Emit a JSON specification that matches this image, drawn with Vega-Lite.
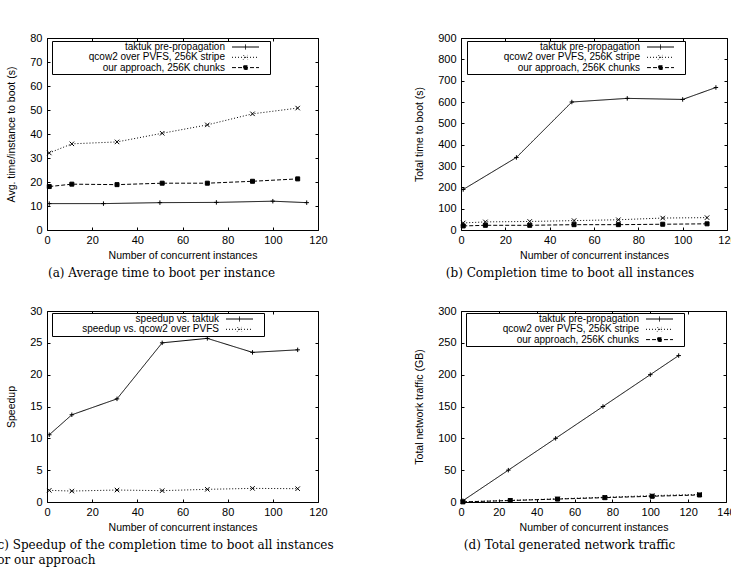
{
  "$schema": "https://vega.github.io/schema/vega-lite/v6.json",
  "padding": {"left": -8, "top": 31, "right": -6, "bottom": 4},
  "background": "white",
  "datasets": {
    "a": [
      {"s": "taktuk pre-propagation", "x": 1, "y": 11},
      {"s": "taktuk pre-propagation", "x": 25, "y": 11},
      {"s": "taktuk pre-propagation", "x": 50, "y": 11.4},
      {"s": "taktuk pre-propagation", "x": 75, "y": 11.5},
      {"s": "taktuk pre-propagation", "x": 100, "y": 12},
      {"s": "taktuk pre-propagation", "x": 115, "y": 11.4},
      {"s": "qcow2 over PVFS, 256K stripe", "x": 1, "y": 32.1},
      {"s": "qcow2 over PVFS, 256K stripe", "x": 11, "y": 35.9},
      {"s": "qcow2 over PVFS, 256K stripe", "x": 31, "y": 36.7},
      {"s": "qcow2 over PVFS, 256K stripe", "x": 51, "y": 40.3},
      {"s": "qcow2 over PVFS, 256K stripe", "x": 71, "y": 43.8},
      {"s": "qcow2 over PVFS, 256K stripe", "x": 91, "y": 48.4},
      {"s": "qcow2 over PVFS, 256K stripe", "x": 111, "y": 50.8},
      {"s": "our approach, 256K chunks", "x": 1, "y": 18.1},
      {"s": "our approach, 256K chunks", "x": 11, "y": 19.1},
      {"s": "our approach, 256K chunks", "x": 31, "y": 18.9},
      {"s": "our approach, 256K chunks", "x": 51, "y": 19.5},
      {"s": "our approach, 256K chunks", "x": 71, "y": 19.5},
      {"s": "our approach, 256K chunks", "x": 91, "y": 20.3},
      {"s": "our approach, 256K chunks", "x": 111, "y": 21.3}
    ],
    "b": [
      {"s": "taktuk pre-propagation", "x": 1, "y": 190},
      {"s": "taktuk pre-propagation", "x": 25, "y": 340},
      {"s": "taktuk pre-propagation", "x": 50, "y": 600},
      {"s": "taktuk pre-propagation", "x": 75, "y": 617},
      {"s": "taktuk pre-propagation", "x": 100, "y": 612},
      {"s": "taktuk pre-propagation", "x": 115, "y": 668},
      {"s": "qcow2 over PVFS, 256K stripe", "x": 1, "y": 33},
      {"s": "qcow2 over PVFS, 256K stripe", "x": 11, "y": 38},
      {"s": "qcow2 over PVFS, 256K stripe", "x": 31, "y": 40},
      {"s": "qcow2 over PVFS, 256K stripe", "x": 51, "y": 44},
      {"s": "qcow2 over PVFS, 256K stripe", "x": 71, "y": 48},
      {"s": "qcow2 over PVFS, 256K stripe", "x": 91, "y": 56},
      {"s": "qcow2 over PVFS, 256K stripe", "x": 111, "y": 58},
      {"s": "our approach, 256K chunks", "x": 1, "y": 19},
      {"s": "our approach, 256K chunks", "x": 11, "y": 22},
      {"s": "our approach, 256K chunks", "x": 31, "y": 22},
      {"s": "our approach, 256K chunks", "x": 51, "y": 25},
      {"s": "our approach, 256K chunks", "x": 71, "y": 25},
      {"s": "our approach, 256K chunks", "x": 91, "y": 27},
      {"s": "our approach, 256K chunks", "x": 111, "y": 29}
    ],
    "c": [
      {"s": "speedup vs. taktuk", "x": 1, "y": 10.56},
      {"s": "speedup vs. taktuk", "x": 11, "y": 13.7},
      {"s": "speedup vs. taktuk", "x": 31, "y": 16.2},
      {"s": "speedup vs. taktuk", "x": 51, "y": 25.0},
      {"s": "speedup vs. taktuk", "x": 71, "y": 25.7},
      {"s": "speedup vs. taktuk", "x": 91, "y": 23.5},
      {"s": "speedup vs. taktuk", "x": 111, "y": 23.9},
      {"s": "speedup vs. qcow2 over PVFS", "x": 1, "y": 1.83},
      {"s": "speedup vs. qcow2 over PVFS", "x": 11, "y": 1.72},
      {"s": "speedup vs. qcow2 over PVFS", "x": 31, "y": 1.88},
      {"s": "speedup vs. qcow2 over PVFS", "x": 51, "y": 1.78},
      {"s": "speedup vs. qcow2 over PVFS", "x": 71, "y": 1.99},
      {"s": "speedup vs. qcow2 over PVFS", "x": 91, "y": 2.14},
      {"s": "speedup vs. qcow2 over PVFS", "x": 111, "y": 2.09}
    ],
    "d": [
      {"s": "taktuk pre-propagation", "x": 1, "y": 2},
      {"s": "taktuk pre-propagation", "x": 25, "y": 50},
      {"s": "taktuk pre-propagation", "x": 50, "y": 100},
      {"s": "taktuk pre-propagation", "x": 75, "y": 150},
      {"s": "taktuk pre-propagation", "x": 100, "y": 200},
      {"s": "taktuk pre-propagation", "x": 115, "y": 230},
      {"s": "qcow2 over PVFS, 256K stripe", "x": 1, "y": 0.3},
      {"s": "qcow2 over PVFS, 256K stripe", "x": 26, "y": 2.5},
      {"s": "qcow2 over PVFS, 256K stripe", "x": 51, "y": 5},
      {"s": "qcow2 over PVFS, 256K stripe", "x": 76, "y": 7.5},
      {"s": "qcow2 over PVFS, 256K stripe", "x": 101, "y": 10},
      {"s": "qcow2 over PVFS, 256K stripe", "x": 126, "y": 12},
      {"s": "our approach, 256K chunks", "x": 1, "y": 0.2},
      {"s": "our approach, 256K chunks", "x": 26, "y": 2.3},
      {"s": "our approach, 256K chunks", "x": 51, "y": 4.6},
      {"s": "our approach, 256K chunks", "x": 76, "y": 6.8},
      {"s": "our approach, 256K chunks", "x": 101, "y": 9},
      {"s": "our approach, 256K chunks", "x": 126, "y": 11}
    ]
  },
  "columns": 2,
  "spacing": {"row": 81, "column": 143},
  "bounds": "flush",
  "resolve": {"scale": {"strokeDash": "independent"}, "legend": {"strokeDash": "independent"}},
  "concat": [
    {
      "width": 271, "height": 192,
      "title": {"text": "(a) Average time to boot per instance", "orient": "bottom", "dx": -21},
      "data": {"name": "a"},
      "resolve": {"axis": {"x": "independent", "y": "independent"}},
      "layer": [
        {
          "mark": {"type": "line", "color": "black", "strokeWidth": 1},
          "encoding": {
            "x": {"field": "x", "type": "quantitative", "scale": {"domain": [0, 120], "nice": false, "zero": false},
                  "axis": {"orient": "bottom", "values": [0, 20, 40, 60, 80, 100, 120], "title": "Number of concurrent instances"}},
            "y": {"field": "y", "type": "quantitative", "scale": {"domain": [0, 80], "nice": false, "zero": false},
                  "axis": {"orient": "left", "values": [0, 10, 20, 30, 40, 50, 60, 70, 80], "title": "Avg. time/instance to boot (s)"}},
            "strokeDash": {"field": "s", "type": "nominal",
              "scale": {"domain": ["taktuk pre-propagation", "qcow2 over PVFS, 256K stripe", "our approach, 256K chunks"], "range": [[1, 0], [1, 2], [4, 2]]},
              "legend": {"title": null, "orient": "none", "legendX": 5, "legendY": 3, "symbolOffset": 187.5, "labelOffset": -25.5,
                "encode": {"symbols": {"update": {
                  "shape": {"signal": "datum.value === 'taktuk pre-propagation' ? 'M-3,0L3,0M0,-0.55L0,0.55M4.56,0' : datum.value === 'qcow2 over PVFS, 256K stripe' ? 'M-3,0L3,0M-0.5,-0.5L0.5,0.5M-0.5,0.5L0.5,-0.5M4.56,0' : 'M-3,0L3,0M-0.4,-0.4L0.4,-0.4L0.4,0.4L-0.4,0.4ZM4.56,0'"},
                  "fill": {"value": "black"}, "stroke": {"value": "black"}, "strokeWidth": {"value": 1}, "opacity": {"value": 1}}}}}}
          }
        },
        {
          "transform": [{"filter": {"field": "s", "equal": "taktuk pre-propagation"}}],
          "mark": {"type": "point", "shape": "M-1,0L1,0M0,-1L0,1", "size": 20, "filled": true, "fill": "black", "stroke": "black", "strokeWidth": 1, "opacity": 1},
          "encoding": {
            "x": {"field": "x", "type": "quantitative", "scale": {"domain": [0, 120], "nice": false, "zero": false}, "axis": {"orient": "top", "labels": false, "title": null, "values": [0, 20, 40, 60, 80, 100, 120]}},
            "y": {"field": "y", "type": "quantitative", "scale": {"domain": [0, 80], "nice": false, "zero": false}, "axis": {"orient": "right", "labels": false, "title": null, "values": [0, 10, 20, 30, 40, 50, 60, 70, 80]}}
          }
        },
        {
          "transform": [{"filter": {"field": "s", "equal": "qcow2 over PVFS, 256K stripe"}}],
          "mark": {"type": "point", "shape": "M-1,-1L1,1M-1,1L1,-1", "size": 20, "filled": true, "fill": "black", "stroke": "black", "strokeWidth": 1, "opacity": 1},
          "encoding": {
            "x": {"field": "x", "type": "quantitative", "scale": {"domain": [0, 120], "nice": false, "zero": false}, "axis": null},
            "y": {"field": "y", "type": "quantitative", "scale": {"domain": [0, 80], "nice": false, "zero": false}, "axis": null}
          }
        },
        {
          "transform": [{"filter": {"field": "s", "equal": "our approach, 256K chunks"}}],
          "mark": {"type": "point", "shape": "M-1,-1L1,-1L1,1L-1,1Z", "size": 16, "filled": true, "fill": "black", "stroke": "black", "strokeWidth": 1, "opacity": 1},
          "encoding": {
            "x": {"field": "x", "type": "quantitative", "scale": {"domain": [0, 120], "nice": false, "zero": false}, "axis": null},
            "y": {"field": "y", "type": "quantitative", "scale": {"domain": [0, 80], "nice": false, "zero": false}, "axis": null}
          }
        }
      ]
    },
    {
      "width": 266, "height": 192,
      "title": {"text": "(b) Completion time to boot all instances", "orient": "bottom", "dx": -24},
      "data": {"name": "b"},
      "resolve": {"axis": {"x": "independent", "y": "independent"}},
      "layer": [
        {
          "mark": {"type": "line", "color": "black", "strokeWidth": 1},
          "encoding": {
            "x": {"field": "x", "type": "quantitative", "scale": {"domain": [0, 120], "nice": false, "zero": false},
                  "axis": {"orient": "bottom", "values": [0, 20, 40, 60, 80, 100, 120], "title": "Number of concurrent instances"}},
            "y": {"field": "y", "type": "quantitative", "scale": {"domain": [0, 900], "nice": false, "zero": false},
                  "axis": {"orient": "left", "values": [0, 100, 200, 300, 400, 500, 600, 700, 800, 900], "title": "Total time to boot (s)"}},
            "strokeDash": {"field": "s", "type": "nominal",
              "scale": {"domain": ["taktuk pre-propagation", "qcow2 over PVFS, 256K stripe", "our approach, 256K chunks"], "range": [[1, 0], [1, 2], [4, 2]]},
              "legend": {"title": null, "orient": "none", "legendX": 6, "legendY": 3, "symbolOffset": 187.5, "labelOffset": -25.5,
                "encode": {"symbols": {"update": {
                  "shape": {"signal": "datum.value === 'taktuk pre-propagation' ? 'M-3,0L3,0M0,-0.55L0,0.55M4.56,0' : datum.value === 'qcow2 over PVFS, 256K stripe' ? 'M-3,0L3,0M-0.5,-0.5L0.5,0.5M-0.5,0.5L0.5,-0.5M4.56,0' : 'M-3,0L3,0M-0.4,-0.4L0.4,-0.4L0.4,0.4L-0.4,0.4ZM4.56,0'"},
                  "fill": {"value": "black"}, "stroke": {"value": "black"}, "strokeWidth": {"value": 1}, "opacity": {"value": 1}}}}}}
          }
        },
        {
          "transform": [{"filter": {"field": "s", "equal": "taktuk pre-propagation"}}],
          "mark": {"type": "point", "shape": "M-1,0L1,0M0,-1L0,1", "size": 20, "filled": true, "fill": "black", "stroke": "black", "strokeWidth": 1, "opacity": 1},
          "encoding": {
            "x": {"field": "x", "type": "quantitative", "scale": {"domain": [0, 120], "nice": false, "zero": false}, "axis": {"orient": "top", "labels": false, "title": null, "values": [0, 20, 40, 60, 80, 100, 120]}},
            "y": {"field": "y", "type": "quantitative", "scale": {"domain": [0, 900], "nice": false, "zero": false}, "axis": {"orient": "right", "labels": false, "title": null, "values": [0, 100, 200, 300, 400, 500, 600, 700, 800, 900]}}
          }
        },
        {
          "transform": [{"filter": {"field": "s", "equal": "qcow2 over PVFS, 256K stripe"}}],
          "mark": {"type": "point", "shape": "M-1,-1L1,1M-1,1L1,-1", "size": 20, "filled": true, "fill": "black", "stroke": "black", "strokeWidth": 1, "opacity": 1},
          "encoding": {
            "x": {"field": "x", "type": "quantitative", "scale": {"domain": [0, 120], "nice": false, "zero": false}, "axis": null},
            "y": {"field": "y", "type": "quantitative", "scale": {"domain": [0, 900], "nice": false, "zero": false}, "axis": null}
          }
        },
        {
          "transform": [{"filter": {"field": "s", "equal": "our approach, 256K chunks"}}],
          "mark": {"type": "point", "shape": "M-1,-1L1,-1L1,1L-1,1Z", "size": 16, "filled": true, "fill": "black", "stroke": "black", "strokeWidth": 1, "opacity": 1},
          "encoding": {
            "x": {"field": "x", "type": "quantitative", "scale": {"domain": [0, 120], "nice": false, "zero": false}, "axis": null},
            "y": {"field": "y", "type": "quantitative", "scale": {"domain": [0, 900], "nice": false, "zero": false}, "axis": null}
          }
        }
      ]
    },
    {
      "width": 271, "height": 191,
      "title": {"text": ["(c) Speedup of the completion time to boot all instances", "for our approach"], "orient": "bottom", "anchor": "start", "align": "left", "dx": -14, "lineHeight": 15},
      "data": {"name": "c"},
      "resolve": {"axis": {"x": "independent", "y": "independent"}},
      "layer": [
        {
          "mark": {"type": "line", "color": "black", "strokeWidth": 1},
          "encoding": {
            "x": {"field": "x", "type": "quantitative", "scale": {"domain": [0, 120], "nice": false, "zero": false},
                  "axis": {"orient": "bottom", "values": [0, 20, 40, 60, 80, 100, 120], "title": "Number of concurrent instances"}},
            "y": {"field": "y", "type": "quantitative", "scale": {"domain": [0, 30], "nice": false, "zero": false},
                  "axis": {"orient": "left", "values": [0, 5, 10, 15, 20, 25, 30], "title": "Speedup"}},
            "strokeDash": {"field": "s", "type": "nominal",
              "scale": {"domain": ["speedup vs. taktuk", "speedup vs. qcow2 over PVFS"], "range": [[1, 0], [1, 2]]},
              "legend": {"title": null, "orient": "none", "legendX": 5, "legendY": 2, "symbolOffset": 181.5, "labelOffset": -25.5,
                "encode": {"symbols": {"update": {
                  "shape": {"signal": "datum.value === 'speedup vs. taktuk' ? 'M-3,0L3,0M0,-0.55L0,0.55M4.56,0' : 'M-3,0L3,0M-0.5,-0.5L0.5,0.5M-0.5,0.5L0.5,-0.5M4.56,0'"},
                  "fill": {"value": "black"}, "stroke": {"value": "black"}, "strokeWidth": {"value": 1}, "opacity": {"value": 1}}}}}}
          }
        },
        {
          "transform": [{"filter": {"field": "s", "equal": "speedup vs. taktuk"}}],
          "mark": {"type": "point", "shape": "M-1,0L1,0M0,-1L0,1", "size": 20, "filled": true, "fill": "black", "stroke": "black", "strokeWidth": 1, "opacity": 1},
          "encoding": {
            "x": {"field": "x", "type": "quantitative", "scale": {"domain": [0, 120], "nice": false, "zero": false}, "axis": {"orient": "top", "labels": false, "title": null, "values": [0, 20, 40, 60, 80, 100, 120]}},
            "y": {"field": "y", "type": "quantitative", "scale": {"domain": [0, 30], "nice": false, "zero": false}, "axis": {"orient": "right", "labels": false, "title": null, "values": [0, 5, 10, 15, 20, 25, 30]}}
          }
        },
        {
          "transform": [{"filter": {"field": "s", "equal": "speedup vs. qcow2 over PVFS"}}],
          "mark": {"type": "point", "shape": "M-1,-1L1,1M-1,1L1,-1", "size": 20, "filled": true, "fill": "black", "stroke": "black", "strokeWidth": 1, "opacity": 1},
          "encoding": {
            "x": {"field": "x", "type": "quantitative", "scale": {"domain": [0, 120], "nice": false, "zero": false}, "axis": null},
            "y": {"field": "y", "type": "quantitative", "scale": {"domain": [0, 30], "nice": false, "zero": false}, "axis": null}
          }
        }
      ]
    },
    {
      "width": 265, "height": 191,
      "title": {"text": "(d) Total generated network traffic", "orient": "bottom", "dx": -24},
      "data": {"name": "d"},
      "resolve": {"axis": {"x": "independent", "y": "independent"}},
      "layer": [
        {
          "mark": {"type": "line", "color": "black", "strokeWidth": 1},
          "encoding": {
            "x": {"field": "x", "type": "quantitative", "scale": {"domain": [0, 140], "nice": false, "zero": false},
                  "axis": {"orient": "bottom", "values": [0, 20, 40, 60, 80, 100, 120, 140], "title": "Number of concurrent instances"}},
            "y": {"field": "y", "type": "quantitative", "scale": {"domain": [0, 300], "nice": false, "zero": false},
                  "axis": {"orient": "left", "values": [0, 50, 100, 150, 200, 250, 300], "title": "Total network traffic (GB)"}},
            "strokeDash": {"field": "s", "type": "nominal",
              "scale": {"domain": ["taktuk pre-propagation", "qcow2 over PVFS, 256K stripe", "our approach, 256K chunks"], "range": [[1, 0], [1, 2], [4, 2]]},
              "legend": {"title": null, "orient": "none", "legendX": 5, "legendY": 2, "symbolOffset": 187.5, "labelOffset": -25.5,
                "encode": {"symbols": {"update": {
                  "shape": {"signal": "datum.value === 'taktuk pre-propagation' ? 'M-3,0L3,0M0,-0.55L0,0.55M4.56,0' : datum.value === 'qcow2 over PVFS, 256K stripe' ? 'M-3,0L3,0M-0.5,-0.5L0.5,0.5M-0.5,0.5L0.5,-0.5M4.56,0' : 'M-3,0L3,0M-0.4,-0.4L0.4,-0.4L0.4,0.4L-0.4,0.4ZM4.56,0'"},
                  "fill": {"value": "black"}, "stroke": {"value": "black"}, "strokeWidth": {"value": 1}, "opacity": {"value": 1}}}}}}
          }
        },
        {
          "transform": [{"filter": {"field": "s", "equal": "taktuk pre-propagation"}}],
          "mark": {"type": "point", "shape": "M-1,0L1,0M0,-1L0,1", "size": 20, "filled": true, "fill": "black", "stroke": "black", "strokeWidth": 1, "opacity": 1},
          "encoding": {
            "x": {"field": "x", "type": "quantitative", "scale": {"domain": [0, 140], "nice": false, "zero": false}, "axis": {"orient": "top", "labels": false, "title": null, "values": [0, 20, 40, 60, 80, 100, 120, 140]}},
            "y": {"field": "y", "type": "quantitative", "scale": {"domain": [0, 300], "nice": false, "zero": false}, "axis": {"orient": "right", "labels": false, "title": null, "values": [0, 50, 100, 150, 200, 250, 300]}}
          }
        },
        {
          "transform": [{"filter": {"field": "s", "equal": "qcow2 over PVFS, 256K stripe"}}],
          "mark": {"type": "point", "shape": "M-1,-1L1,1M-1,1L1,-1", "size": 20, "filled": true, "fill": "black", "stroke": "black", "strokeWidth": 1, "opacity": 1},
          "encoding": {
            "x": {"field": "x", "type": "quantitative", "scale": {"domain": [0, 140], "nice": false, "zero": false}, "axis": null},
            "y": {"field": "y", "type": "quantitative", "scale": {"domain": [0, 300], "nice": false, "zero": false}, "axis": null}
          }
        },
        {
          "transform": [{"filter": {"field": "s", "equal": "our approach, 256K chunks"}}],
          "mark": {"type": "point", "shape": "M-1,-1L1,-1L1,1L-1,1Z", "size": 16, "filled": true, "fill": "black", "stroke": "black", "strokeWidth": 1, "opacity": 1},
          "encoding": {
            "x": {"field": "x", "type": "quantitative", "scale": {"domain": [0, 140], "nice": false, "zero": false}, "axis": null},
            "y": {"field": "y", "type": "quantitative", "scale": {"domain": [0, 300], "nice": false, "zero": false}, "axis": null}
          }
        }
      ]
    }
  ],
  "config": {
    "view": {"stroke": "black", "strokeWidth": 1},
    "font": "Liberation Sans",
    "axis": {
      "domain": false, "grid": false, "ticks": true, "tickColor": "black", "tickSize": -3, "tickWidth": 1,
      "labelPadding": 7, "labelFont": "Liberation Sans", "labelFontSize": 11, "labelColor": "black",
      "labelFlush": false, "labelOverlap": false,
      "titleFont": "Liberation Sans", "titleFontSize": 10.5, "titleFontWeight": "normal", "titleColor": "black", "titlePadding": 5
    },
    "axisY": {"titlePadding": 13, "labelPadding": 8},
    "legend": {
      "labelFont": "Liberation Sans", "labelFontSize": 10, "labelColor": "black", "labelAlign": "right", "labelLimit": 400,
      "strokeColor": "black", "fillColor": "white", "padding": 1,
      "symbolSize": 81, "symbolStrokeWidth": 1, "symbolStrokeColor": "black", "symbolFillColor": "black",
      "rowPadding": 0.3
    },
    "title": {"font": "DejaVu Serif", "fontSize": 12, "fontWeight": "normal", "color": "black", "offset": 7}
  }
}
